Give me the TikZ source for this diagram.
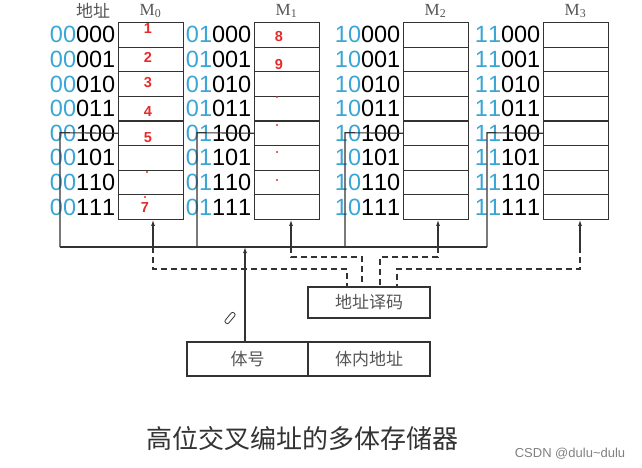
\documentclass[tikz,border=0pt]{standalone}
\usepackage{fontspec}
\setmainfont{Liberation Serif}
\newfontfamily\cjk{Noto Sans CJK SC}
\newfontfamily\arl[Numbers=Monospaced,Kerning=Off]{Liberation Sans}
\usetikzlibrary{arrows.meta}
\definecolor{addrblue}{HTML}{3AA6D6}
\definecolor{numred}{HTML}{E52B2B}
\definecolor{ln}{HTML}{333333}
\definecolor{gtxt}{HTML}{555555}
\tikzset{
  cell/.style={draw=ln, line width=1.1pt, minimum width=65pt, minimum height=24.6pt, inner sep=0pt, anchor=north west},
  lbl/.style={font=\arl\fontsize{23.5}{23.5}\selectfont, inner sep=0pt, anchor=east, text=black},
  rednum/.style={font=\arl\bfseries\fontsize{14.5}{14.5}\selectfont, text=numred, inner sep=0pt},
  wire/.style={draw=ln, line width=1.1pt},
  dashwire/.style={draw=ln, line width=1.1pt, dash pattern=on 6pt off 4pt},
  arr/.style={wire, -{Latex[length=6pt,width=4pt]}},
  box/.style={draw=ln, line width=1.2pt, inner sep=0pt, font=\cjk\fontsize{17}{17}\selectfont, text=gtxt},
  mlab/.style={font=\fontsize{17}{17}\selectfont, text=gtxt, inner sep=0pt},
}
\begin{document}
\begin{tikzpicture}[x=1pt,y=-1pt]
\useasboundingbox (0,0) rectangle (642,467);
% memory banks
\foreach \i/\xl/\hi/\bx/\ax in {0/118/00/60/153,1/254/01/197/291,2/403/10/345/438,3/543/11/487/580}{
  \foreach \r/\lo in {0/000,1/001,2/010,3/011,4/100,5/101,6/110,7/111}{
    \node[cell] (c\i\r) at (\xl,22+\r*24.6) {};
    \node[lbl] (a\i\r) at ([xshift=-2.5pt]c\i\r.west) {{\color{addrblue}\hi}{\color{black}\lo}};
  }
  \node[mlab] (m\i) at (\xl+32.5,11) {M\textsubscript{\i}};
  \coordinate (t\i) at (\bx,132.7);
  \coordinate (u\i) at (\bx,247);
  \draw[wire] (c\i4.west) -- (t\i) -- (u\i);
  \coordinate (p\i) at (\ax,247);
  \draw[arr] (p\i) -- (p\i |- c\i7.south);
}
\node[font=\cjk\fontsize{17}{17}\selectfont, text=gtxt, inner sep=0pt] (hdr) at (93,11) {地址};
% bus
\draw[wire] (u0) -- (u3);
% red numbers
\node[rednum] (n1) at (148,29) {1};
\node[rednum] (n2) at (148,57) {2};
\node[rednum] (n3) at (148,83) {3};
\node[rednum] (n4) at (148,112) {4};
\node[rednum] (n5) at (148,138) {5};
\node[rednum] (n7) at (145,208) {7};
\node[rednum] (n8) at (279,37) {8};
\node[rednum] (n9) at (279,65) {9};
\foreach \p in {(147,172),(145,197),(277,97),(277,125),(277,152),(277,180)}
  \fill[numred] \p circle (1.1pt);
% decoder and address register
\node[box, minimum width=122pt, minimum height=31pt] (dec) at (369,302.5) {地址译码};
\node[box, minimum width=121pt, minimum height=34pt] (bn) at (247.5,359) {体号};
\node[box, minimum width=122pt, minimum height=34pt] (ba) at (369,359) {体内地址};
% dashed select lines
\coordinate (d0) at (347,269);
\coordinate (d1) at (362,257);
\coordinate (d2) at (380,257);
\coordinate (d3) at (397,269);
\foreach \i in {0,1,2,3}{
  \draw[dashwire] (p\i) |- (d\i) -- (d\i |- dec.north);
}
% main arrow
\coordinate (ht) at (245,247);
\draw[arr] (ht |- bn.north) -- (ht);
% pencil mark
\node[draw=ln, line width=0.8pt, rounded corners=2pt, minimum width=13pt, minimum height=4.5pt, inner sep=0pt, rotate=50] (pen) at (230,318) {};
% caption
\node[font=\cjk\fontsize{26}{26}\selectfont, text=black!80, inner sep=0pt] (cap) at (302.5,439) {高位交叉编址的多体存储器};
\node[font=\arl\fontsize{13}{13}\selectfont, text=black!50, inner sep=0pt] (wm) at (570,454) {CSDN @dulu\char`\~dulu};
\end{tikzpicture}
\end{document}
